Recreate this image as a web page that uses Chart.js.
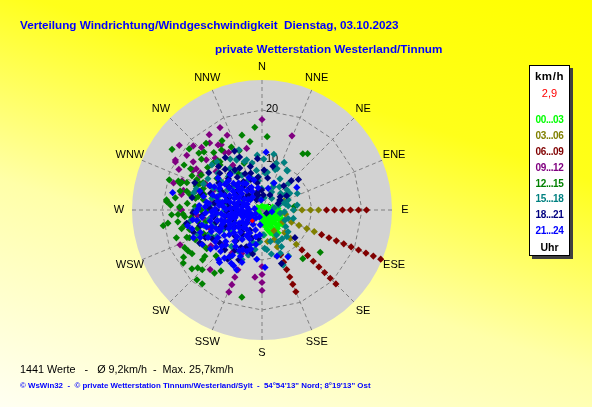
<!DOCTYPE html>
<html>
<head>
<meta charset="utf-8">
<script src="https://cdn.jsdelivr.net/npm/chart.js@4.4.0/dist/chart.umd.min.js"></script>
<style>
    body {
        margin: 0;
        width: 592px;
        height: 407px;
        overflow: hidden;
        position: relative;
        font-family: "Liberation Sans", Arial, sans-serif;
        background: linear-gradient(198deg, #ffff00 0%, #ffff1a 30%, #ffffa8 62%, #fffff2 100%);
    }
    #wind { position: absolute; left: 0; top: 0; }
    .txt { position: absolute; white-space: pre; line-height: 14px; }
    .title { color: #0000ff; font-weight: bold; font-size: 11.7px; }
    #legend {
        position: absolute; left: 529px; top: 65px; width: 39px; height: 189px;
        background: #fff; border: 1px solid #000; box-shadow: 3px 3px 0 #404040;
    }
    .leg { position: absolute; left: 0; width: 39px; text-align: center; font-weight: bold;
           font-size: 10px; letter-spacing: -0.4px; line-height: 14px; }
</style>
</head>
<body>
<canvas id="wind" width="592" height="407"></canvas>

<div class="txt title" style="left:20px; top:18px;">Verteilung Windrichtung/Windgeschwindigkeit  Dienstag, 03.10.2023</div>
<div class="txt title" style="left:215px; top:42px;">private Wetterstation Westerland/Tinnum</div>
<div class="txt" style="left:20px; top:362px; font-size:10.8px; color:#000;">1441 Werte   -   Ø 9,2km/h  -  Max. 25,7km/h</div>
<div class="txt" style="left:20px; top:379px; font-size:7.9px; font-weight:bold; color:#0000ff;">© WsWin32  -  © private Wetterstation Tinnum/Westerland/Sylt  -  54°54'13" Nord; 8°19'13" Ost</div>

<div id="legend"></div>

<script>
// wind speed axis (km/h) and compass
const speedMax = 26;
const speedTicks = [0, 10, 20];
const compass = ['N', 'NNE', 'NE', 'ENE', 'E', 'ESE', 'SE', 'SSE', 'S', 'SSW', 'SW', 'WSW', 'W', 'WNW', 'NW', 'NNW'];
const hourLabels = ['00...03', '03...06', '06...09', '09...12', '12...15', '15...18', '18...21', '21...24'];
const hourColors = ['#00ff00', '#808000', '#800000', '#800080', '#008000', '#008080', '#000080', '#0000ff'];

// [direction deg, speed km/h] per 3-hour block
const h00_03 = [[95,2.4],[100,3.2],[105,2.0],[110,3.5],[115,2.8],[120,1.6],[120,4.0],[125,3.2],[130,2.4],[130,4.5],
    [135,1.6],[140,3.2],[140,4.8],[145,2.4],[150,4.0],[150,1.6],[155,3.2],[160,4.8],[160,2.4],[165,4.0],[170,3.2],
    [175,5.0],[170,1.6],[180,2.4],[110,1.6],[100,4.0],[90,1.6],[85,3.2],[125,5.0],[145,5.6],[135,4.0],[115,4.5],
    [300,1.0],[0,0.8],[60,1.2],[45,0.8],[200,1.0],[250,0.8],[75,2.2],[155,5.4]];
const h03_06 = [[90,6.4],[90,8.0],[90,9.7],[90,11.3],[112.5,6.4],[112.5,8.0],[112.5,9.7],[112.5,11.3],[135,6.4],
    [135,8.0],[135,9.7],[157.5,6.4],[157.5,8.0],[67.5,4.8],[100,4.8],[120,4.8],[150,4.8],[170,6.4]];
const h06_09 = [[90,12.9],[90,14.5],[90,16.1],[90,17.7],[90,19.3],[90,20.9],
    [112.5,12.9],[112.5,14.5],[112.5,16.1],[112.5,17.7],[112.5,19.3],[112.5,20.9],[112.5,22.5],[112.5,24.1],[112.5,25.7],
    [135,11.3],[135,12.9],[135,14.5],[135,16.1],[135,17.7],[135,19.3],[135,20.9],
    [157.5,9.7],[157.5,11.3],[157.5,12.9],[157.5,14.5],[157.5,16.1],[157.5,17.7]];
const h09_12 = [[325,18.4],[313,18.8],[316,17.4],[326,15.7],[328,15.4],[327,13.8],[330,13.3],[306,18.6],[299,19.8],
    [300,16.2],[302,15.5],[284,16.2],[281,16.4],[301,14.4],[327,10.7],[287,18.5],[286,13.8],[271,16.4],[0,18.1],
    [22,16.0],[300,20.0],[346,12.7],[180,11.3],[180,12.9],[180,14.5],[180,16.1],[186,13.5],[202,12.9],[202,14.5],
    [202,16.1],[202,17.7],[221,15.8],[247,17.8],[299,14.2],[300,15.9],[270,16.1],[267,13.8],[227,10.1],[205,9.6],
    [290,17.0],[295,12.5],[310,12.0],[318,14.0],[335,16.5],[275,19.0],[305,16.8],[265,13.0],[250,11.0],[235,12.5],
    [215,10.5],[292,10.5],[280,10.0],[260,11.5],[312,15.0],[322,17.0],[333,18.5],[308,21.0],[296,18.5]];
const h12_15 = [[355,16.6],[4,14.7],[36,13.9],[39,14.5],[304,21.7],[320,17.4],[315,16.4],[310,15.8],[339,12.7],
    [350,13.9],[288,17.2],[273,18.3],[275,19.1],[84,6.5],[339,10.0],[319,12.8],[314,13.5],[318,13.2],[289,17.7],
    [289,17.0],[295,14.4],[293,13.5],[284,15.5],[282,14.7],[276,19.2],[282,13.0],[280,11.9],[273,13.4],[290,12.5],
    [327,8.7],[317,12.3],[267,18.1],[267,16.8],[267,15.8],[261,20.0],[259,15.7],[257,16.5],[249,15.5],[246,14.6],
    [238,16.5],[242,14.1],[239,13.7],[225,16.9],[223,19.1],[219,19.0],[217,15.8],[214,14.7],[231,14.7],[214,11.3],
    [193,17.9],[230,18.3],[241,16.9],[239,18.3],[126,14.4],[140,12.7],[248,12.6],[285,12.0],[290,14.0],[280,13.5],
    [275,15.0],[265,15.5],[260,13.0],[270,12.2],[295,13.0],[300,14.0],[255,15.0],[250,16.0],[245,12.0],[235,13.5],
    [230,15.5],[225,13.0],[305,11.0],[290,16.0],[278,17.5],[262,17.0],[300,18.0],[310,19.0],[320,15.0],[330,16.0],
    [296,15.6],[283,16.8],[272,16.5],[264,14.2],[254,13.4],[244,17.2],[236,19.0],[228,17.3],[308,13.8],[312,17.0],
    [326,14.5],[334,14.0],[345,15.5],[262,19.0],[288,19.5],[300,16.5],[252,18.0],[258,11.5],[270,10.8],[240,11.2]];
const h15_18 = [[8,7.6],[16,9.2],[20,8.8],[32,9.4],[354,6.7],[353,5.9],[333,11.2],[340,10.3],[317,13.2],[23,5.8],
    [37,5.8],[60,6.1],[61,4.1],[76,4.9],[17,9.8],[18,8.5],[33,9.3],[359,4.3],[26,5.2],[28,4.1],[51,6.4],[59,6.5],
    [57,5.5],[69,5.6],[74,3.5],[81,5.3],[100,3.7],[114,5.0],[108,5.5],[150,5.8],[153,7.1],[152,8.3],[173,8.0],
    [159,11.8],[137,7.3],[5,7.4],[352,8.0],[340,7.1],[336,6.6],[307,8.9],[309,7.4],[294,10.7],[295,9.6],[283,10.3],
    [283,9.0],[299,5.4],[288,4.3],[258,6.5],[248,6.2],[253,10.2],[243,8.7],[231,4.8],[184,6.4],[176,7.7],[204,5.9],
    [249,13.7],[261,14.6],[284,14.1],[288,13.8],[82,7.1],[90,6.3],[157,9.4],[150,10.6],[202,10.7],[197,9.4],
    [177,5.0],[343,10.5],[334,11.4],[339,12.9],[325,9.5],[330,8.0],[310,11.5],[300,12.5],[270,7.5],[275,10.5],
    [265,9.0],[235,7.5],[225,6.0],[215,7.0],[320,3.5],[345,2.5],[10,2.5],[40,3.0],[80,2.5],
    [348,9.6],[355,11.0],[2,10.2],[12,11.4],[25,10.5],[30,7.2],[45,7.5],[48,5.0],[65,7.8],[70,4.5],[95,4.5],
    [105,6.5],[125,5.8],[130,6.8],[145,7.0],[165,6.5],[168,9.0],[190,8.0],[195,6.8],[210,9.5],[220,9.5],[240,10.5],
    [245,11.5],[255,12.0],[260,10.8],[280,7.0],[290,9.0],[300,8.0],[305,10.0],[315,9.5],[322,10.5],[328,12.0],
    [312,13.5],[294,12.8],[270,13.5]];
const h18_21 = [[342,3.5],[359,4.0],[28,3.4],[61,4.1],[68,3.5],[318,4.1],[302,4.4],[311,11.2],[319,9.7],[326,9.7],
    [321,6.0],[272,10.4],[270,9.1],[260,15.3],[252,14.4],[242,14.1],[232,10.7],[223,10.9],[223,5.9],[211,4.7],
    [125,1.1],[203,8.0],[197,8.4],[214,9.7],[50,9.5],[54,4.5],[346,3.1],[332,2.3],[60,5.7],[315,12.3],[130,8.6],
    [160,11.4],[187,5.7],[250,6.0],[260,7.5],[265,5.0],[275,6.5],[280,8.0],[285,4.5],[290,7.0],[295,9.0],[300,6.0],
    [305,8.0],[310,4.0],[315,7.0],[330,5.0],[335,8.0],[340,6.5],[345,9.0],[350,5.5],[255,9.5],[245,8.0],[238,6.5],
    [230,4.0],[240,11.5],[265,12.0],[275,11.0],[285,12.5],[295,11.5],[305,13.0],[220,8.0],[215,12.0],[205,11.0],
    [340,3.2],[5,3.0],
    [235,5.5],[247,9.2],[253,6.8],[258,3.6],[262,9.8],[268,7.0],[272,5.8],[278,9.6],[282,6.9],[288,10.8],[293,8.3],
    [297,5.8],[302,10.2],[308,6.3],[313,9.2],[318,11.0],[323,8.2],[327,6.8],[332,9.5],[337,11.5],[343,7.7],[348,3.8],
    [353,6.6],[355,10.3],[3,8.0],[10,6.5],[14,9.0],[42,6.5],[45,8.3],[226,7.5],[218,6.3],[209,8.6],[200,6.0],
    [192,9.0],[244,12.6],[256,12.8],[268,13.8],[280,14.2],[292,14.5],[325,12.8],[335,13.0]];
const h21_24 = [[198,4.2],[203,6.3],[196,8.1],[205,10.2],[212,3.4],[208,5.2],[214,7.1],[209,9.3],[215,11.4],
    [222,2.9],[219,4.9],[224,6.2],[221,8.3],[226,10.1],[218,12.2],[232,2.6],[229,4.1],[234,5.8],[231,7.2],[236,9.1],
    [228,10.8],[233,12.9],[242,3.1],[239,4.6],[244,6.1],[241,7.6],[246,8.9],[238,10.4],[243,12.1],[252,2.4],[249,4.0],
    [254,5.6],[251,7.1],[256,8.4],[248,9.9],[253,11.6],[250,13.1],[262,3.2],[259,4.4],[264,6.0],[261,7.6],[266,9.1],
    [258,10.6],[263,12.1],[272,2.6],[269,4.1],[274,5.4],[271,7.2],[276,8.6],[268,10.1],[273,11.4],[282,3.1],[279,5.1],
    [284,6.6],[281,8.1],[286,9.4],[278,11.2],[292,3.2],[289,4.9],[294,7.1],[291,8.8],[296,10.6],[302,4.1],[299,6.2],
    [304,7.9],[301,9.8],[312,3.1],[309,5.2],[314,6.8],[311,8.9],[322,4.9],[319,7.1],[332,4.2],[329,6.1],
    [4,11.6],[57,8.3],[24,5.9],[16,4.5],[281,18.2],[306,10.9],[210,12.3],[186,9.9],[151,10.7],[162,9.7],[177,11.5],
    [203,13.0],[219,13.5],[190,7.0],[185,5.0],[350,4.5],[355,2.0],[100,2.0],[200,1.5],[240,1.5],[280,1.5],
    [255,14.5],[262,14.0],[248,14.8],[268,13.2],[240,13.8],[258,15.2],
    [187,3.0],[193,5.5],[199,7.4],[206,8.8],[201,11.2],[211,6.0],[216,9.0],[213,10.8],[217,2.0],[223,7.3],[227,5.1],
    [225,11.7],[229,9.6],[235,3.5],[237,6.7],[233,8.2],[236,11.3],[240,5.3],[245,7.0],[243,9.5],[247,11.0],[244,2.2],
    [251,3.2],[255,6.3],[253,7.8],[257,9.2],[252,10.6],[256,12.4],[259,5.2],[261,6.8],[265,8.2],[263,10.0],[267,11.3],
    [266,3.8],[270,4.8],[273,6.3],[275,7.8],[271,9.4],[277,10.7],[274,12.6],[279,4.0],[283,5.7],[285,7.4],[281,9.0],
    [287,10.3],[283,12.0],[289,3.9],[293,6.0],[291,8.0],[297,9.5],[295,11.5],[298,5.2],[303,6.9],[305,9.0],[307,3.5],
    [310,6.1],[313,7.8],[316,5.8],[318,9.5],[325,6.5],[324,3.2],[335,5.0],[338,7.0],[345,6.2],[200,8.8],[207,12.5],
    [221,13.2],[231,11.8],[246,13.5],[261,13.2],[271,12.8],[287,13.0],[250,8.5],[262,5.5]];
const currentWind = [[222, 2.9]];

const hourData = [h00_03, h03_06, h06_09, h09_12, h12_15, h15_18, h18_21, h21_24];

function toXY(pair) {
    const rad = pair[0] * Math.PI / 180;
    return { x: pair[1] * Math.sin(rad), y: pair[1] * Math.cos(rad) };
}

// legend box
const legend = document.getElementById('legend');
function addLeg(text, top, color, extra) {
    const d = document.createElement('div');
    d.className = 'leg';
    d.textContent = text;
    d.style.top = (top - 65 - 7) + 'px';
    d.style.color = color;
    if (extra) Object.assign(d.style, extra);
    legend.appendChild(d);
}
addLeg('km/h', 75, '#000', { fontSize: '11.5px', letterSpacing: '0.6px' });
addLeg('2,9', 92, '#ff0000', { fontWeight: 'normal', fontSize: '11px', letterSpacing: '0' });
hourLabels.forEach((lab, i) => addLeg(lab, 119.3 + i * 15.8, hourColors[i]));
addLeg('Uhr', 245.7, '#000', { fontSize: '10.5px', letterSpacing: '0' });

const polarGrid = {
    id: 'polarGrid',
    beforeDatasetsDraw(chart) {
        const { ctx, scales: { x, y } } = chart;
        const cx = x.getPixelForValue(0), cy = y.getPixelForValue(0);
        const at = (dir, v) => {
            const rad = dir * Math.PI / 180;
            return [x.getPixelForValue(v * Math.sin(rad)), y.getPixelForValue(v * Math.cos(rad))];
        };
        const R = x.getPixelForValue(speedMax) - cx;
        ctx.save();
        ctx.fillStyle = '#d2d2d2';
        ctx.beginPath();
        ctx.arc(cx, cy, R, 0, Math.PI * 2);
        ctx.fill();

        ctx.strokeStyle = '#808080';
        ctx.lineWidth = 1;
        ctx.setLineDash([4, 3]);
        speedTicks.filter(v => v > 0).forEach(v => {
            ctx.beginPath();
            compass.forEach((c, i) => {
                const p = at(i * 22.5, v);
                if (i === 0) ctx.moveTo(p[0], p[1]); else ctx.lineTo(p[0], p[1]);
            });
            ctx.closePath();
            ctx.stroke();
        });
        compass.forEach((c, i) => {
            const p = at(i * 22.5, speedMax);
            ctx.beginPath();
            ctx.moveTo(cx, cy);
            ctx.lineTo(p[0], p[1]);
            ctx.stroke();
        });
        ctx.setLineDash([]);

        ctx.fillStyle = '#000';
        ctx.font = '11px "Liberation Sans", Arial, sans-serif';
        ctx.textBaseline = 'middle';
        ctx.textAlign = 'left';
        speedTicks.forEach(v => ctx.fillText(String(v), cx + 4, y.getPixelForValue(v) - 1));

        ctx.textAlign = 'center';
        compass.forEach((c, i) => {
            const p = at(i * 22.5, speedMax * 1.1);
            ctx.fillText(c, p[0], p[1]);
        });
        ctx.restore();
    }
};

const datasets = hourData.map((arr, i) => ({
    label: hourLabels[i],
    data: arr.map(toXY),
    backgroundColor: hourColors[i],
    borderWidth: 0,
    pointStyle: 'rectRot',
    pointRadius: 3.6,
    order: hourData.length - i
}));
datasets.push({
    label: 'aktuell',
    data: currentWind.map(toXY),
    backgroundColor: '#ff0000',
    borderWidth: 0,
    pointStyle: 'rectRot',
    pointRadius: 2.5,
    order: 0
});

new Chart(document.getElementById('wind'), {
    type: 'scatter',
    data: { datasets },
    options: {
        responsive: false,
        animation: false,
        layout: { autoPadding: false, padding: { left: 132, right: 200, top: 80, bottom: 67 } },
        scales: {
            x: { type: 'linear', min: -speedMax, max: speedMax, display: false },
            y: { type: 'linear', min: -speedMax, max: speedMax, display: false }
        },
        plugins: { legend: { display: false }, tooltip: { enabled: false } }
    },
    plugins: [polarGrid]
});
</script>
</body>
</html>
